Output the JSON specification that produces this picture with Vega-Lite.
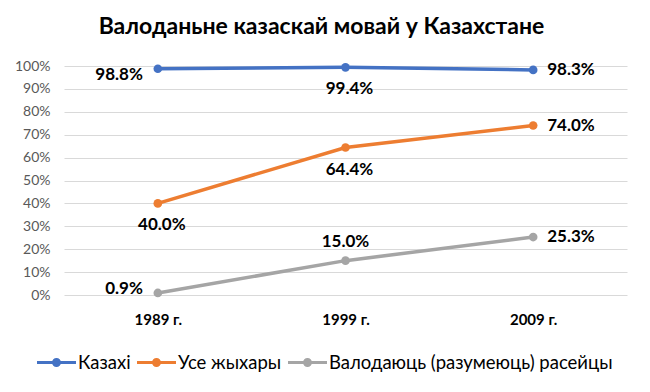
{
  "$schema": "https://vega.github.io/schema/vega-lite/v6.json",
  "width": 563,
  "height": 229,
  "padding": {"left": 14, "top": 16, "right": 22, "bottom": 10},
  "background": "white",
  "title": {
    "text": "Валоданьне казаскай мовай у Казахстане",
    "font": "Lato",
    "fontSize": 23,
    "fontWeight": "bold",
    "color": "#000000",
    "anchor": "middle",
    "dx": -24,
    "offset": 20
  },
  "config": {
    "view": {"stroke": null},
    "font": "Lato"
  },
  "data": {
    "values": [
      {"year": "1989 г.", "series": "Казахі", "value": 0.988},
      {"year": "1999 г.", "series": "Казахі", "value": 0.994},
      {"year": "2009 г.", "series": "Казахі", "value": 0.983},
      {"year": "1989 г.", "series": "Усе жыхары", "value": 0.40},
      {"year": "1999 г.", "series": "Усе жыхары", "value": 0.644},
      {"year": "2009 г.", "series": "Усе жыхары", "value": 0.74},
      {"year": "1989 г.", "series": "Валодаюць (разумеюць) расейцы", "value": 0.009},
      {"year": "1999 г.", "series": "Валодаюць (разумеюць) расейцы", "value": 0.15},
      {"year": "2009 г.", "series": "Валодаюць (разумеюць) расейцы", "value": 0.253}
    ]
  },
  "encoding": {
    "x": {
      "field": "year",
      "type": "ordinal",
      "sort": null,
      "scale": {"type": "point", "padding": 0.5},
      "axis": {
        "title": null,
        "labelAngle": 0,
        "labelFont": "Lato",
        "labelFontSize": 15,
        "labelFontWeight": "bold",
        "labelColor": "#000000",
        "labelPadding": 17,
        "ticks": false,
        "domain": false,
        "grid": false
      }
    },
    "y": {
      "field": "value",
      "type": "quantitative",
      "scale": {"domain": [0, 1], "nice": false},
      "axis": {
        "title": null,
        "values": [0, 0.1, 0.2, 0.3, 0.4, 0.5, 0.6, 0.7, 0.8, 0.9, 1],
        "format": ".0%",
        "labelFont": "Lato",
        "labelFontSize": 14,
        "labelColor": "#595959",
        "labelPadding": 14,
        "ticks": false,
        "domain": false,
        "grid": true,
        "gridColor": "#d9d9d9",
        "gridWidth": 1
      }
    }
  },
  "layer": [
    {
      "mark": {"type": "line", "strokeWidth": 3.5, "point": {"filled": true, "size": 75}},
      "encoding": {
        "color": {
          "field": "series",
          "type": "nominal",
          "sort": null,
          "scale": {
            "domain": ["Казахі", "Усе жыхары", "Валодаюць (разумеюць) расейцы"],
            "range": ["#4472C4", "#ED7D31", "#A5A5A5"]
          },
          "legend": {
            "title": null,
            "orient": "none",
            "legendX": -27,
            "legendY": 277,
            "direction": "horizontal",
            "labelFont": "Lato",
            "labelFontSize": 18.5,
            "labelColor": "#000000",
            "labelLimit": 400,
            "symbolType": "M-1,-0.08H1V0.08H-1Z M0.23,0A0.23,0.23,0,1,1,-0.23,0A0.23,0.23,0,1,1,0.23,0Z",
            "symbolSize": 1521,
            "symbolStrokeWidth": 0,
            "labelOffset": 2,
            "columnPadding": 6,
            "encode": {
              "symbols": {"update": {"fill": {"scale": "color", "field": "value"}, "strokeWidth": {"value": 0}, "opacity": {"value": 1}}}
            }
          }
        }
      }
    },
    {
      "transform": [{"filter": "datum.year === '2009 г.'"}],
      "mark": {"type": "text", "align": "left", "baseline": "middle", "dx": 14, "fontSize": 17, "fontWeight": "bold", "font": "Lato", "color": "#000000"},
      "encoding": {"text": {"field": "value", "type": "quantitative", "format": ".1%"}}
    },
    {
      "transform": [{"filter": "datum.year === '1989 г.' && datum.series === 'Казахі'"}],
      "mark": {"type": "text", "align": "right", "baseline": "middle", "dx": -15, "dy": 6, "fontSize": 17, "fontWeight": "bold", "font": "Lato", "color": "#000000"},
      "encoding": {"text": {"field": "value", "type": "quantitative", "format": ".1%"}}
    },
    {
      "transform": [{"filter": "datum.year === '1989 г.' && datum.series === 'Валодаюць (разумеюць) расейцы'"}],
      "mark": {"type": "text", "align": "right", "baseline": "middle", "dx": -15, "dy": -4, "fontSize": 17, "fontWeight": "bold", "font": "Lato", "color": "#000000"},
      "encoding": {"text": {"field": "value", "type": "quantitative", "format": ".1%"}}
    },
    {
      "transform": [{"filter": "(datum.year === '1989 г.' && datum.series === 'Усе жыхары') || (datum.year === '1999 г.' && datum.series !== 'Валодаюць (разумеюць) расейцы')"}],
      "mark": {"type": "text", "align": "center", "baseline": "middle", "dx": 4, "dy": 22, "fontSize": 17, "fontWeight": "bold", "font": "Lato", "color": "#000000"},
      "encoding": {"text": {"field": "value", "type": "quantitative", "format": ".1%"}}
    },
    {
      "transform": [{"filter": "datum.year === '1999 г.' && datum.series === 'Валодаюць (разумеюць) расейцы'"}],
      "mark": {"type": "text", "align": "center", "baseline": "middle", "dy": -19, "fontSize": 17, "fontWeight": "bold", "font": "Lato", "color": "#000000"},
      "encoding": {"text": {"field": "value", "type": "quantitative", "format": ".1%"}}
    }
  ]
}
